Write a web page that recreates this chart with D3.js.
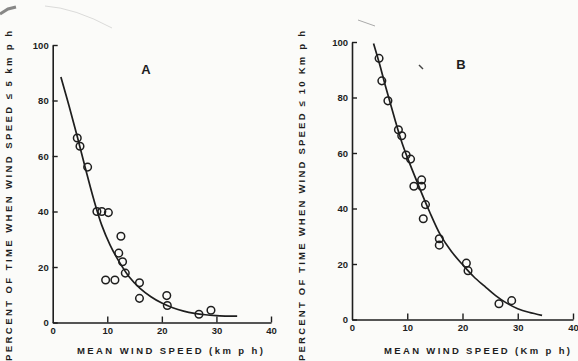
<!DOCTYPE html>
<html><head><meta charset="utf-8">
<script src="https://cdn.jsdelivr.net/npm/d3@7"></script>
<style>
html,body{margin:0;padding:0;background:#fbfbf9;}
svg{display:block;}
text{font-family:"Liberation Sans",Arial,sans-serif;font-weight:bold;fill:#1e1e1e;}
</style></head>
<body>
<svg id="chart" width="578" height="361"></svg>
<script>
// ---- data ----
const xTicks = [0, 10, 20, 30, 40];
const yTicks = [0, 20, 40, 60, 80, 100];

const pointsAX = [4.5, 5.0, 6.4, 8.1, 9.0, 10.2, 12.5, 12.1, 12.8, 13.3, 9.7, 11.4, 15.9, 15.9, 20.9, 21.0, 26.8, 29.0];
const pointsAY = [66.5, 63.5, 56.0, 40.0, 40.0, 39.6, 31.1, 25.0, 21.9, 17.8, 15.3, 15.3, 14.3, 8.7, 9.7, 6.1, 3.0, 4.4];
const curveAX = [1.5, 3, 4.5, 6, 7.5, 9, 10.5, 12, 14, 16, 18, 20, 22, 24, 26, 28, 30, 32, 33.8];
const curveAY = [88.5, 78, 67, 55.5, 44.5, 35, 28, 22.5, 16.5, 12.3, 9.3, 7.0, 5.3, 4.1, 3.3, 2.8, 2.5, 2.3, 2.3];

const pointsBX = [4.9, 5.4, 6.5, 8.4, 9.0, 9.8, 10.6, 11.2, 12.6, 12.6, 13.3, 12.9, 15.8, 15.8, 20.7, 21.0, 26.6, 28.9];
const pointsBY = [94.1, 86.0, 78.8, 68.4, 66.2, 59.3, 57.8, 48.0, 50.3, 48.0, 41.4, 36.3, 29.1, 26.8, 20.3, 17.6, 5.7, 6.8];
const curveBX = [3.9, 5, 6, 7, 8, 9, 10, 12, 14, 16, 18, 20, 22, 24, 26, 28, 30, 32, 34.4];
const curveBY = [99.5, 92, 84.5, 77.5, 70.5, 64, 58.5, 48.5, 39, 30.5, 24.5, 19.8, 15.5, 12, 8.6, 5.9, 3.9, 2.6, 1.5];

const panelLabels = ["A", "B"];
const yTitles = ["PERCENT OF TIME WHEN WIND SPEED ≤ 5 km p h", "PERCENT OF TIME WHEN WIND SPEED ≤ 10 Km p h"];
const xTitles = ["MEAN WIND SPEED (km p h)", "MEAN WIND SPEED (Km p h)"];

// ---- drawing ----
const svg = d3.select("#chart");
const ink = "#1e1e1e";
const titleFont = "DejaVu Sans, Verdana, sans-serif";

const panels = [
  {x: d3.scaleLinear([0, 40], [52.7, 271]), y: d3.scaleLinear([0, 100], [322.5, 45]),
   px: pointsAX, py: pointsAY, cx: curveAX, cy: curveAY,
   label: panelLabels[0], labelPos: [146, 74], yTitle: yTitles[0], xTitle: xTitles[0],
   yTitleX: 9, xTitleX: 170},
  {x: d3.scaleLinear([0, 40], [352, 573]), y: d3.scaleLinear([0, 100], [319.5, 42]),
   px: pointsBX, py: pointsBY, cx: curveBX, cy: curveBY,
   label: panelLabels[1], labelPos: [461, 69], yTitle: yTitles[1], xTitle: xTitles[1],
   yTitleX: 302, xTitleX: 477}
];

panels.forEach(p => {
  const g = svg.append("g");
  const xAxis = d3.axisBottom(p.x).tickValues(xTicks).tickSize(-6).tickSizeOuter(0).tickPadding(5);
  const yAxis = d3.axisLeft(p.y).tickValues(yTicks).tickSize(-5).tickSizeOuter(0).tickPadding(4);
  const gx = g.append("g").attr("transform", `translate(0,${p.y(0)})`).call(xAxis);
  const gy = g.append("g").attr("transform", `translate(${p.x(0)},0)`).call(yAxis);
  [gx, gy].forEach(a => {
    a.select(".domain").attr("stroke", ink).attr("stroke-width", 1.6);
    a.selectAll(".tick line").attr("stroke", ink).attr("stroke-width", 1.4);
    a.selectAll(".tick text").attr("font-size", 9.5).attr("font-family", "Liberation Sans, Arial, sans-serif")
      .attr("font-weight", "bold").attr("fill", ink);
  });
  gx.selectAll(".tick").filter(d => d === 0).select("line").remove();

  const line = d3.line().x(d => p.x(d[0])).y(d => p.y(d[1])).curve(d3.curveCatmullRom.alpha(0.5));
  g.append("path").datum(p.cx.map((v, i) => [v, p.cy[i]]))
    .attr("d", line).attr("fill", "none").attr("stroke", ink).attr("stroke-width", 1.7);

  g.selectAll("circle").data(p.px.map((v, i) => [v, p.py[i]])).join("circle")
    .attr("cx", d => p.x(d[0])).attr("cy", d => p.y(d[1])).attr("r", 3.8)
    .attr("fill", "none").attr("stroke", ink).attr("stroke-width", 1.5);

  g.append("text").attr("x", p.labelPos[0]).attr("y", p.labelPos[1])
    .attr("text-anchor", "middle").attr("font-size", 13).text(p.label);

  g.append("text").attr("x", p.xTitleX).attr("y", 354).attr("text-anchor", "middle")
    .attr("font-family", titleFont).attr("font-size", 9.5)
    .attr("textLength", 186).attr("lengthAdjust", "spacing").text(p.xTitle);

  g.append("text").attr("transform", `translate(${p.yTitleX},196) rotate(-90)`)
    .attr("text-anchor", "middle").attr("dy", "0.35em")
    .attr("font-family", titleFont).attr("font-size", 9.5)
    .attr("textLength", 330).attr("lengthAdjust", "spacing").text(p.yTitle);
});

// scan marks
svg.append("path").attr("d", "M0,14 L8,9 L16,7").attr("stroke", "#555").attr("stroke-width", 3).attr("fill", "none").attr("opacity", 0.7);
svg.append("path").attr("d", "M45,6 Q75,8 112,28").attr("stroke", "#aaa").attr("stroke-width", 0.8).attr("fill", "none").attr("opacity", 0.5);
svg.append("path").attr("d", "M358,20 L375,26").attr("stroke", "#aaa").attr("stroke-width", 1).attr("fill", "none");
svg.append("path").attr("d", "M419,65 L423,69").attr("stroke", "#444").attr("stroke-width", 1.5).attr("fill", "none");
</script>
</body></html>
